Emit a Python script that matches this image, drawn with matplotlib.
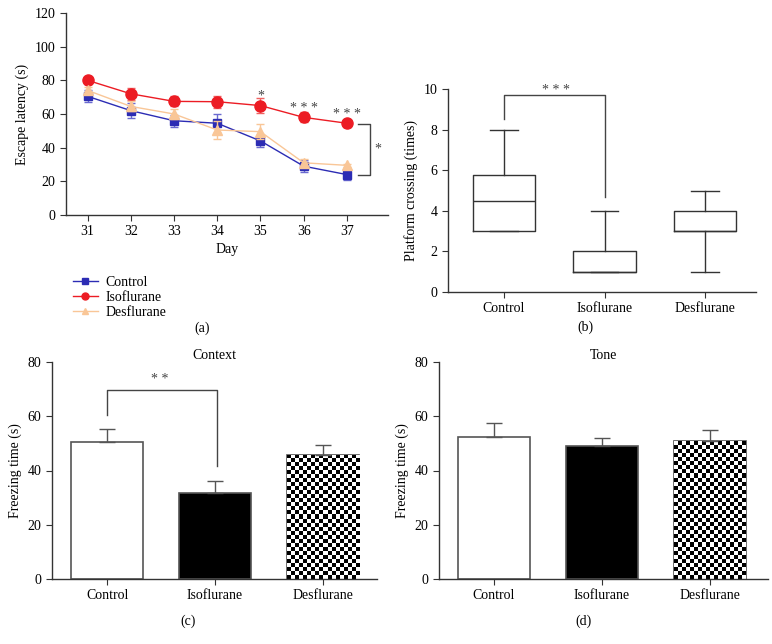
import numpy as np
import matplotlib
matplotlib.use("Agg")
import matplotlib.pyplot as plt
from matplotlib.lines import Line2D

plt.rcParams['font.family'] = ['Liberation Serif', 'DejaVu Serif']
plt.rcParams['font.size'] = 10

# ---- data ----
days = [31, 32, 33, 34, 35, 36, 37]
ctrl_lat = [70.5, 62, 56, 54.5, 44, 29, 24]
ctrl_err = [3.5, 4.5, 3.5, 5.5, 3.5, 3.5, 3.5]
iso_lat = [80, 72, 67.5, 67.3, 65, 58, 54.5]
iso_err = [2, 3.5, 3, 3.5, 4.5, 3, 2]
des_lat = [74, 64.5, 60, 50.5, 49.5, 31, 29.5]
des_err = [2, 3, 3, 5.5, 4.5, 2, 1]

groups = ['Control', 'Isoflurane', 'Desflurane']
# platform crossing box stats
box_q1 = [3, 1, 3]
box_med = [4.5, 1, 3]
box_q3 = [5.75, 2, 4]
box_lo = [3, 1, 1]
box_hi = [8, 4, 5]

context_mean = [50.5, 31.6, 45.8]
context_err = [4.8, 4.4, 3.6]
tone_mean = [52.2, 49, 50.8]
tone_err = [5.3, 2.8, 4.3]

c_blue = '#2c2cb4'
c_red = '#ec1c24'
c_orange = '#f9c697'
c_axis = '#333333'

fig = plt.figure(figsize=(7.72, 6.44), dpi=100)


def style(ax):
    for s in ['top', 'right']:
        ax.spines[s].set_visible(False)
    for s in ['left', 'bottom']:
        ax.spines[s].set_color(c_axis)
        ax.spines[s].set_linewidth(1.0)
    ax.tick_params(direction='out', length=4, color=c_axis, labelsize=10)


def checker(ax, bar, nx, cell_h):
    x0, y0 = bar.get_x(), bar.get_y()
    w, h = bar.get_width(), bar.get_height()
    ny = int(round(h / cell_h))
    img = np.add.outer(np.arange(ny), np.arange(nx)) % 2
    im = ax.imshow(img, cmap='gray', extent=(x0, x0 + w, y0, y0 + h),
                   origin='lower', interpolation='nearest', aspect='auto',
                   zorder=bar.get_zorder())
    im.set_clip_path(bar)


# ---- (a) escape latency ----
ax = fig.add_axes([66/772, 1-215/644, 322/772, 202/644])
ax.errorbar(days, ctrl_lat, yerr=ctrl_err, color=c_blue, marker='s', ms=6,
            lw=1, capsize=3, ecolor='#6a6ad0', zorder=3)
ax.errorbar(days, iso_lat, yerr=iso_err, color=c_red, marker='o', ms=8,
            lw=1, capsize=3, ecolor='#f06060', zorder=3)
ax.errorbar(days, des_lat, yerr=des_err, color=c_orange, marker='^', ms=7,
            lw=1, capsize=3, ecolor=c_orange, zorder=4)
ax.set_xlim(30.5, 37.95)
ax.set_ylim(0, 120)
ax.set_xticks(days)
ax.set_yticks(range(0, 121, 20))
ax.set_xlabel('Day', labelpad=3)
ax.set_ylabel('Escape latency (s)')
style(ax)
ax.text(35, 70.5, '*', ha='center', va='center', fontsize=10, color='#444')
ax.text(36, 63.5, '* * *', ha='center', va='center', fontsize=10, color='#444')
ax.text(37, 60, '* * *', ha='center', va='center', fontsize=10, color='#444')
ax.plot([37.25, 37.53, 37.53, 37.25], [54.3, 54.3, 24, 24], color='#444', lw=1,
        clip_on=False)
ax.text(37.72, 39, '*', ha='center', va='center', fontsize=10, color='#444')
handles = [Line2D([], [], color=c_blue, marker='s', ms=4.5, lw=1),
           Line2D([], [], color=c_red, marker='o', ms=5, lw=1),
           Line2D([], [], color=c_orange, marker='^', ms=5, lw=1)]
fig.legend(handles, groups, loc='upper left', bbox_to_anchor=(60/772, 1-263/644),
           frameon=False, handlelength=1.8, handletextpad=0.6,
           labelspacing=0.15, fontsize=10)
fig.text(202/772, 1-328/644, '(a)', ha='center', va='center', fontsize=10)

# ---- (b) platform crossing ----
ax = fig.add_axes([448/772, 1-292/644, 308/772, 203/644])
stats = [dict(q1=box_q1[i], med=box_med[i], q3=box_q3[i], whislo=box_lo[i],
              whishi=box_hi[i], label=g) for i, g in enumerate(groups)]
lp = dict(color=c_axis, lw=1)
ax.bxp(stats, positions=[1, 2, 3], widths=0.62, capwidths=0.27,
       showfliers=False, boxprops=lp, whiskerprops=lp, capprops=lp,
       medianprops=lp)
ax.set_xlim(0.443, 3.507)
ax.set_ylim(0, 10)
ax.set_yticks(range(0, 11, 2))
ax.set_ylabel('Platform crossing (times)')
style(ax)
ax.plot([1, 1, 2, 2], [8.5, 9.7, 9.7, 4.7], color='#444', lw=1)
ax.text(1.52, 9.95, '* * *', ha='center', va='center', fontsize=10, color='#444')
fig.text(585/772, 1-327/644, '(b)', ha='center', va='center', fontsize=10)


# ---- (c) and (d) freezing time ----
def bar_panel(rect, means, errs, title, xlim):
    ax = fig.add_axes(rect)
    x = np.arange(1, 4)
    bars = ax.bar(x, means, width=0.667, color=['white', 'black', 'none'],
                  edgecolor='#555555', lw=1.2, zorder=2)
    ax.errorbar(x, means, yerr=[np.zeros(3), errs], fmt='none',
                ecolor='#555555', elinewidth=1, capsize=6, capthick=1, zorder=3)
    checker(ax, bars[2], 18, 80/217*4)
    ax.set_xlim(*xlim)
    ax.set_ylim(0, 80)
    ax.set_xticks(x)
    ax.set_xticklabels(groups)
    ax.set_yticks(range(0, 81, 20))
    ax.set_ylabel('Freezing time (s)')
    ax.set_title(title, fontsize=10, pad=2)
    style(ax)
    return ax


ax = bar_panel([52/772, 1-579/644, 325/772, 217/644], context_mean, context_err,
               'Context', (0.49, 3.5))
ax.plot([1, 1, 2.02, 2.02], [60.3, 69.8, 69.8, 41.5], color='#444', lw=1)
ax.text(1.49, 73.5, '* *', ha='center', va='center', fontsize=10, color='#444')
fig.text(188/772, 1-621/644, '(c)', ha='center', va='center', fontsize=10)

ax = bar_panel([439/772, 1-579/644, 329/772, 217/644], tone_mean, tone_err,
               'Tone', (0.49, 3.54))
fig.text(583/772, 1-621/644, '(d)', ha='center', va='center', fontsize=10)

fig.savefig('out.png', dpi=100)
